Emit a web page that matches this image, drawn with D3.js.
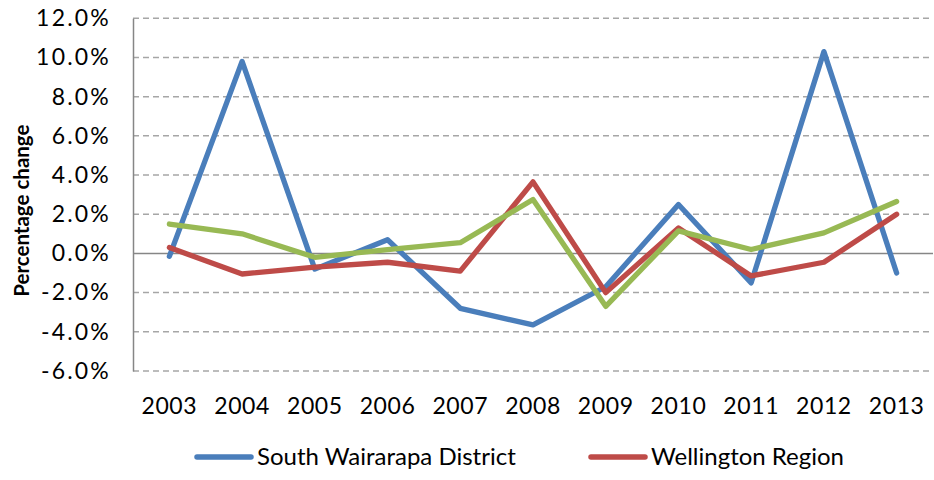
<!DOCTYPE html>
<html>
<head>
<meta charset="utf-8">
<script src="https://cdn.jsdelivr.net/npm/d3@7"></script>
<style>
  html, body { margin: 0; padding: 0; background: #fff; }
  svg { display: block; font-family: Lato, "Open Sans", sans-serif; }
</style>
</head>
<body>
<svg id="chart" width="934" height="480"></svg>
<script>
// Annual percentage change, 2003–2013
const years = ["2003","2004","2005","2006","2007","2008","2009","2010","2011","2012","2013"];
const southWairarapa = [-0.15, 9.8, -0.8, 0.7, -2.8, -3.65, -1.7, 2.5, -1.5, 10.3, -1.0];
const wellington     = [0.3, -1.05, -0.7, -0.45, -0.9, 3.65, -2.0, 1.3, -1.15, -0.45, 2.0];
const newZealand     = [1.5, 1.0, -0.2, 0.2, 0.55, 2.75, -2.7, 1.15, 0.2, 1.05, 2.65];
const yTicks = [-6, -4, -2, 0, 2, 4, 6, 8, 10, 12];

const series = [
  { name: "South Wairarapa District", values: southWairarapa, color: "#4A7EBB", legend: true },
  { name: "Wellington Region",        values: wellington,     color: "#BE4B48", legend: true },
  { name: "New Zealand",              values: newZealand,     color: "#98B954", legend: false }
];

const svg = d3.select("#chart");
const plot = { left: 133, right: 933, top: 18.3, bottom: 371 };

const x = d3.scaleBand().domain(years).range([plot.left, plot.right]).padding(0);
const y = d3.scaleLinear().domain([-6, 12]).range([plot.bottom, plot.top]);
const cx = d => x(d) + x.bandwidth() / 2;

// Percent labels with a plain hyphen for negatives
const pct = d => (d < 0 ? "-" : "") + Math.abs(d).toFixed(1) + "%";

// Dashed horizontal gridlines (zero line drawn solid below)
svg.append("g")
  .selectAll("line")
  .data(yTicks.filter(t => t !== 0))
  .join("line")
  .attr("x1", plot.left).attr("x2", plot.right)
  .attr("y1", d => y(d)).attr("y2", d => y(d))
  .attr("stroke", "#A6A6A6")
  .attr("stroke-width", 1.5)
  .attr("stroke-dasharray", "6,4");

// Y axis with percentage labels
const yAxis = d3.axisLeft(y)
  .tickValues(yTicks)
  .tickSize(0)
  .tickPadding(22)
  .tickFormat(pct);
const gy = svg.append("g").attr("transform", `translate(${plot.left},0)`).call(yAxis);
gy.select(".domain").attr("stroke", "#868686").attr("stroke-width", 1.5);
gy.selectAll("text")
  .attr("font-size", 23)
  .attr("letter-spacing", 2.2)
  .attr("fill", "#000")
  .attr("font-family", "Lato, sans-serif");

// Zero baseline
svg.append("line")
  .attr("x1", plot.left).attr("x2", plot.right)
  .attr("y1", y(0)).attr("y2", y(0))
  .attr("stroke", "#868686")
  .attr("stroke-width", 1.5);

// Year labels along the bottom
const xAxis = d3.axisBottom(x).tickSize(0).tickPadding(0);
const gx = svg.append("g").attr("transform", `translate(0,${plot.bottom + 27})`).call(xAxis);
gx.select(".domain").remove();
gx.selectAll("text")
  .attr("font-size", 23)
  .attr("letter-spacing", 0.6)
  .attr("fill", "#000")
  .attr("font-family", "Lato, sans-serif");

// Y axis title
svg.append("text")
  .attr("transform", `translate(29,${(plot.top + plot.bottom) / 2 + 16}) rotate(-90)`)
  .attr("text-anchor", "middle")
  .attr("font-size", 20.5)
  .attr("font-weight", "bold")
  .attr("fill", "#000")
  .text("Percentage change");

// Series lines
const line = d3.line()
  .x((d, i) => cx(years[i]))
  .y(d => y(d));

svg.append("g")
  .selectAll("path")
  .data(series)
  .join("path")
  .attr("d", s => line(s.values))
  .attr("fill", "none")
  .attr("stroke", s => s.color)
  .attr("stroke-width", 5.3)
  .attr("stroke-linejoin", "round")
  .attr("stroke-linecap", "round");

// Legend
const legendItems = series.filter(s => s.legend);
const legendX = [197, 591];
const legend = svg.append("g")
  .selectAll("g")
  .data(legendItems)
  .join("g")
  .attr("transform", (d, i) => `translate(${legendX[i]},457)`);
legend.append("line")
  .attr("x1", 0).attr("x2", 54)
  .attr("stroke", d => d.color)
  .attr("stroke-width", 5.5)
  .attr("stroke-linecap", "round");
legend.append("text")
  .attr("x", 60)
  .attr("dy", "0.35em")
  .attr("font-size", 24)
  .attr("fill", "#000")
  .text(d => d.name);
</script>
</body>
</html>
